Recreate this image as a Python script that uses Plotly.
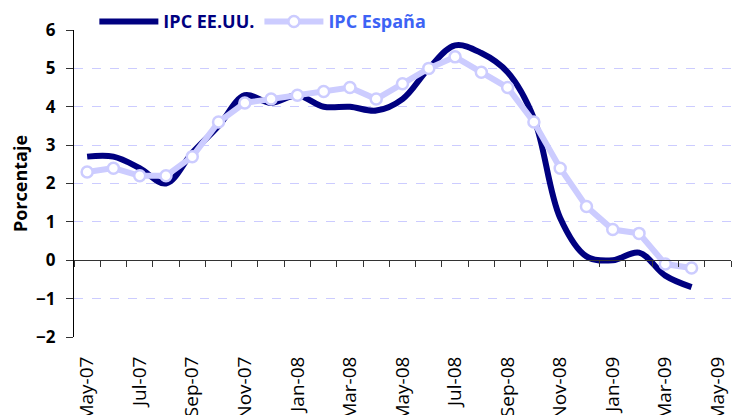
import plotly.graph_objects as go

months = ["May-07", "Jun-07", "Jul-07", "Aug-07", "Sep-07", "Oct-07", "Nov-07", "Dec-07",
          "Jan-08", "Feb-08", "Mar-08", "Apr-08", "May-08", "Jun-08", "Jul-08", "Aug-08",
          "Sep-08", "Oct-08", "Nov-08", "Dec-08", "Jan-09", "Feb-09", "Mar-09", "Apr-09",
          "May-09"]
ipc_usa = [2.7, 2.7, 2.4, 2.0, 2.8, 3.5, 4.3, 4.1, 4.3, 4.0, 4.0, 3.9, 4.2, 5.0, 5.6, 5.4,
           4.9, 3.7, 1.1, 0.1, 0.0, 0.2, -0.4, -0.7]
ipc_esp = [2.3, 2.4, 2.2, 2.2, 2.7, 3.6, 4.1, 4.2, 4.3, 4.4, 4.5, 4.2, 4.6, 5.0, 5.3, 4.9,
           4.5, 3.6, 2.4, 1.4, 0.8, 0.7, -0.1, -0.2]
y_ticks = [-2, -1, 0, 1, 2, 3, 4, 5, 6]

NAVY = "#000080"
LAV = "#CCCCFF"
FONT = "Open Sans"

fig = go.Figure()
fig.add_trace(go.Scatter(
    x=months[:len(ipc_usa)], y=ipc_usa, name="IPC EE.UU.", mode="lines",
    line=dict(color=NAVY, width=6, shape="spline", smoothing=1.0),
    xaxis="x", yaxis="y"))
fig.add_trace(go.Scatter(
    x=months[:len(ipc_esp)], y=ipc_esp,
    name="<span style='color:#3D63F5'>IPC España</span>", mode="lines+markers",
    line=dict(color=LAV, width=6),
    marker=dict(size=11, color="white", line=dict(color=LAV, width=2.5)),
    xaxis="x2", yaxis="y"))

cat = dict(type="category", categoryorder="array", categoryarray=months,
           range=[-0.5, len(months) - 0.5])
fig.update_layout(
    width=743, height=415,
    margin=dict(l=66, r=20, t=22, b=86, autoexpand=False),
    paper_bgcolor="white", plot_bgcolor="white",
    font=dict(family=FONT, color="black"),
    showlegend=True,
    legend=dict(orientation="h", x=0.031, xanchor="left", y=1.027, yanchor="middle",
                bgcolor="rgba(0,0,0,0)", font=dict(size=18, color=NAVY, weight="bold"),
                itemwidth=59, tracegroupgap=0),
    xaxis=dict(**cat, dtick=2, ticks="outside", ticklen=11, tickcolor="rgba(0,0,0,0)",
               showline=False, showgrid=False, zeroline=False,
               automargin=False, tickangle=-90,
               tickfont=dict(size=19, family=FONT, color="black")),
    xaxis2=dict(**cat, overlaying="x", anchor="free", position=0.25, side="bottom",
                showline=True, linecolor="#333333", linewidth=1.2, automargin=False,
                ticks="outside", ticklen=6, tickcolor="#333333", tickson="boundaries",
                dtick=1, showticklabels=False, showgrid=False, zeroline=False),
    yaxis=dict(range=[-2, 6], tickvals=y_ticks, showline=True, linecolor="black",
               linewidth=1.2, ticks="outside", ticklen=7, tickcolor="#333333",
               ticklabelstandoff=7,
               showgrid=True, gridcolor=LAV, griddash="dash", gridwidth=1,
               zeroline=False, automargin=False,
               tickfont=dict(size=17, weight="bold", color="black"),
               title=dict(text="Porcentaje", font=dict(size=18, weight="bold"), standoff=8)),
)

fig.write_html("out.html")
